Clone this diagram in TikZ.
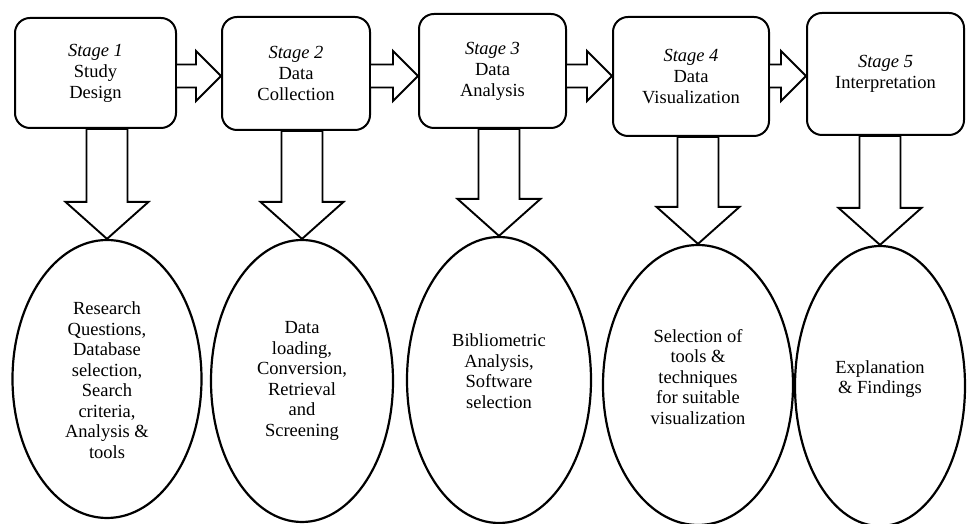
\documentclass[tikz,border=0pt]{standalone}
\usepackage{fontspec}
\setmainfont{Liberation Serif}
\usetikzlibrary{shapes.geometric,calc}

% block arrow from a stage box down to its ellipse
\newcommand{\downblock}[2]{%
  \draw[blockarrow] let \p1=(#1.south), \p2=(#2.north) in
    (\x2-20.5pt,\y1) -- (\x2-20.5pt,\y2+37pt) -- (\x2-41.5pt,\y2+37pt) -- (\x2,\y2)
    -- (\x2+41.5pt,\y2+37pt) -- (\x2+20.5pt,\y2+37pt) -- (\x2+20.5pt,\y1) -- cycle;}
% block arrow from one stage box to the next
\newcommand{\rightblock}[2]{%
  \draw[blockarrow] let \p1=(#1.east), \p2=(#2.west), \p3=(flow) in
    (\x1,\y3+11.5pt) -- (\x2-25pt,\y3+11.5pt) -- (\x2-25pt,\y3+25pt) -- (\x2,\y3)
    -- (\x2-25pt,\y3-25pt) -- (\x2-25pt,\y3-11.5pt) -- (\x1,\y3-11.5pt);}

\begin{document}
\begin{tikzpicture}[
    x=1pt, y=1pt,
    stage/.style={rectangle, draw, line width=2pt, rounded corners=15pt, align=center, inner sep=0pt, font=\fontsize{18.5}{21}\selectfont},
    task/.style={ellipse, draw, line width=2.2pt, inner sep=0pt},
    tasktext/.style={align=center, inner sep=0pt, font=\fontsize{18.5}{20.5}\selectfont},
    blockarrow/.style={draw, line width=1.9pt, fill=white, line join=miter}
]
\useasboundingbox (0,0) rectangle (967,524);
\coordinate (flow) at (0,448);

% Stage boxes along the top
\node[stage, minimum width=161pt, minimum height=110pt] (design) at (95.5,451) {\textit{Stage 1}\\Study\\Design};
\node[stage, minimum width=148pt, minimum height=113pt] (collection) at (296,450.5) {\textit{Stage 2}\\Data\\Collection};
\node[stage, minimum width=147pt, minimum height=114pt] (analysis) at (492.5,453) {\textit{Stage 3}\\Data\\Analysis};
\node[stage, minimum width=156pt, minimum height=119pt] (visualization) at (691,447.5) {\textit{Stage 4}\\Data\\Visualization};
\node[stage, minimum width=157pt, minimum height=122pt] (interpretation) at (885.5,450) {\textit{Stage 5}\\Interpretation};

% Ellipses with the tasks of each stage
\node[task, minimum width=189pt, minimum height=278pt] (plan) at (107,145) {};
\node[task, minimum width=182pt, minimum height=282pt] (gather) at (302,143) {};
\node[task, minimum width=184pt, minimum height=286pt] (biblio) at (499,144) {};
\node[task, minimum width=190pt, minimum height=280pt] (tools) at (698,139) {};
\node[task, minimum width=170pt, minimum height=280pt] (findings) at (880,138) {};

\node[tasktext] (plantext) at ([yshift=-1pt]plan.center) {Research\\Questions,\\Database\\selection,\\Search\\criteria,\\Analysis \&\\tools};
\node[tasktext] (gathertext) at (gather.center) {Data\\loading,\\Conversion,\\Retrieval\\and\\Screening};
\node[tasktext] (bibliotext) at ([yshift=9pt]biblio.center) {Bibliometric\\Analysis,\\Software\\selection};
\node[tasktext] (toolstext) at ([yshift=8pt]tools.center) {Selection of\\tools \&\\techniques\\for suitable\\visualization};
\node[tasktext] (findingstext) at ([yshift=7pt]findings.center) {Explanation\\\& Findings};

% Arrows between the stages
\rightblock{design}{collection}
\rightblock{collection}{analysis}
\rightblock{analysis}{visualization}
\rightblock{visualization}{interpretation}

% Arrows from each stage to its tasks
\downblock{design}{plan}
\downblock{collection}{gather}
\downblock{analysis}{biblio}
\downblock{visualization}{tools}
\downblock{interpretation}{findings}

\end{tikzpicture}
\end{document}
